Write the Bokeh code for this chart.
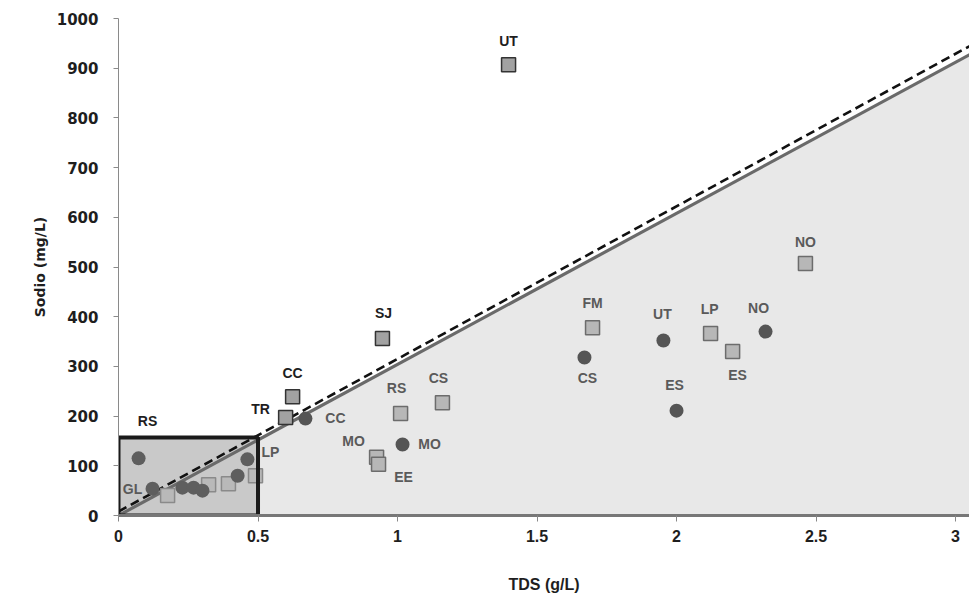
from bokeh.plotting import figure
from bokeh.models import Range1d, FixedTicker, ColumnDataSource
from bokeh.core.properties import value
from bokeh.embed import file_html
from bokeh.resources import INLINE

# ---------------- data ----------------
sq_labels = ["UT", "SJ", "CC", "TR", "RS", "CS", "MO", "EE", "FM", "LP", "ES", "NO", "", "", "", ""]
sq_tds    = [1.398, 0.946, 0.624, 0.599, 1.011, 1.161, 0.925, 0.932, 1.699, 2.122, 2.201, 2.462, 0.176, 0.323, 0.394, 0.491]
sq_na     = [907, 356, 239, 197, 205, 227, 117, 103, 378, 366, 330, 507, 40, 62, 64, 80]

ci_labels = ["RS", "GL", "", "", "", "", "LP", "CC", "MO", "CS", "UT", "ES", "NO"]
ci_tds    = [0.072, 0.122, 0.229, 0.269, 0.301, 0.427, 0.462, 0.670, 1.018, 1.670, 1.953, 2.000, 2.319]
ci_na     = [115, 54, 56, 56, 50, 80, 113, 195, 143, 318, 352, 211, 370]

solid_slope = 304.0       # mg/L per g/L, through origin
dashed_slope = 307.0
dashed_intercept = 8.0
box_tds = [0.0, 0.5]
box_na = [0.0, 157.0]

x_ticks = [0, 0.5, 1, 1.5, 2, 2.5, 3]
x_tick_labels = ["0", "0.5", "1", "1.5", "2", "2.5", "3"]
y_ticks = [0, 100, 200, 300, 400, 500, 600, 700, 800, 900, 1000]

# ---------------- label styling (screen offsets, px) ----------------
sq_dx = [0, 1, 0, -25, -4, -4, -23, 25, 0, -1, 5, 0, 0, 0, 0, 0]
sq_dy = [-24, -26, -24, -9, -26, -25, -16, 13, -25, -25, 24, -22, 0, 0, 0, 0]
ci_dx = [9, -20, 0, 0, 0, 0, 23, 30, 27, 3, -1, -2, -7]
ci_dy = [-37, 0, 0, 0, 0, 0, -7, -1, 0, 21, -27, -26, -24]
ci_label_dark = [True] + [False] * 12

DARK = "#1e1e1e"
GRAY = "#5a5a5a"

def above(x, y):
    return y > solid_slope * x

def in_box(x, y):
    return box_tds[0] <= x <= box_tds[1] and box_na[0] <= y <= box_na[1]

sq_fill, sq_line, sq_tcol = [], [], []
for x, y in zip(sq_tds, sq_na):
    if in_box(x, y):
        sq_fill.append("#b9b9b9"); sq_line.append("#8a8a8a"); sq_tcol.append(GRAY)
    elif above(x, y):
        sq_fill.append("#a2a2a2"); sq_line.append("#333333"); sq_tcol.append(DARK)
    else:
        sq_fill.append("#b7b7b7"); sq_line.append("#6c6c6c"); sq_tcol.append(GRAY)

ci_fill = ["#5e5e5e" if in_box(x, y) else "#555555" for x, y in zip(ci_tds, ci_na)]
ci_tcol = [DARK if d else GRAY for d in ci_label_dark]

sq_src = ColumnDataSource(dict(x=sq_tds, y=sq_na, t=sq_labels, fill=sq_fill, line=sq_line,
                               tc=sq_tcol, dx=sq_dx, dy=sq_dy))
ci_src = ColumnDataSource(dict(x=ci_tds, y=ci_na, t=ci_labels, fill=ci_fill,
                               tc=ci_tcol, dx=ci_dx, dy=ci_dy))

# ---------------- figure ----------------
p = figure(width=969, height=595, x_range=Range1d(0, 3.05), y_range=Range1d(0, 1000),
           output_backend="svg", toolbar_location=None,
           min_border_left=118, min_border_right=0, min_border_top=18, min_border_bottom=80)
p.outline_line_color = None
p.xgrid.visible = False
p.ygrid.visible = False
p.background_fill_color = "white"
p.border_fill_color = "white"

x_end = 3.3
# shaded region below the solid line
p.patch([0, x_end, x_end], [0, solid_slope * x_end, 0], fill_color="#e8e8e8", line_color=None)
# low-TDS box
p.quad(left=box_tds[0], right=box_tds[1], bottom=box_na[0], top=box_na[1],
       fill_color="#c9c9c9", line_color=None)

# reference lines
p.line([0, x_end], [0, solid_slope * x_end], line_color="#6a6a6a", line_width=3.2)
p.line([0, x_end], [dashed_intercept, dashed_intercept + dashed_slope * x_end],
       line_color="#111111", line_width=2.6, line_dash="9 5")

# points
p.scatter("x", "y", source=sq_src, marker="square", size=14, fill_color="fill",
          line_color="line", line_width=1.5)
p.scatter("x", "y", source=ci_src, marker="circle", size=14, fill_color="fill", line_color=None)

# box border
p.quad(left=box_tds[0], right=box_tds[1], bottom=box_na[0], top=box_na[1],
       fill_color=None, line_color="#1a1a1a", line_width=4)

# labels
for src in (sq_src, ci_src):
    p.text("x", "y", text="t", source=src, x_offset="dx", y_offset="dy",
           text_color="tc", text_font=value("Liberation Sans"), text_font_style="bold",
           text_font_size="14px", text_align="center", text_baseline="middle")

# axes
xa = p.xaxis[0]
xa.ticker = FixedTicker(ticks=x_ticks)
xa.major_label_overrides = {t: l for t, l in zip(x_ticks, x_tick_labels)}
xa.axis_line_color = "#777777"
xa.axis_line_width = 3
xa.major_tick_line_color = "#888888"
xa.major_tick_out = 6
xa.major_tick_in = 0
xa.minor_tick_line_color = None
xa.major_label_standoff = 8
xa.major_label_text_font = "Liberation Sans"
xa.major_label_text_font_style = "bold"
xa.major_label_text_font_size = "16px"
xa.major_label_text_color = "#1e1e1e"
xa.axis_label = "TDS (g/L)"
xa.axis_label_text_font = "Liberation Sans"
xa.axis_label_text_font_style = "bold"
xa.axis_label_text_font_size = "16px"
xa.axis_label_text_color = "#1e1e1e"
xa.axis_label_standoff = 31

ya = p.yaxis[0]
ya.ticker = FixedTicker(ticks=y_ticks)
ya.axis_line_color = "#8a8a8a"
ya.axis_line_width = 1
ya.major_tick_line_color = "#8a8a8a"
ya.major_tick_out = 5
ya.major_tick_in = 0
ya.minor_tick_line_color = None
ya.major_label_standoff = 15
ya.major_label_text_font = "DejaVu Sans"
ya.major_label_text_font_style = "bold"
ya.major_label_text_font_size = "15px"
ya.major_label_text_color = "#1e1e1e"
ya.axis_label = "Sodio (mg/L)"
ya.axis_label_text_font = "DejaVu Sans"
ya.axis_label_text_font_style = "bold"
ya.axis_label_text_font_size = "14px"
ya.axis_label_text_color = "#1e1e1e"
ya.axis_label_standoff = 6

open("out.html", "w").write(file_html(p, INLINE))
